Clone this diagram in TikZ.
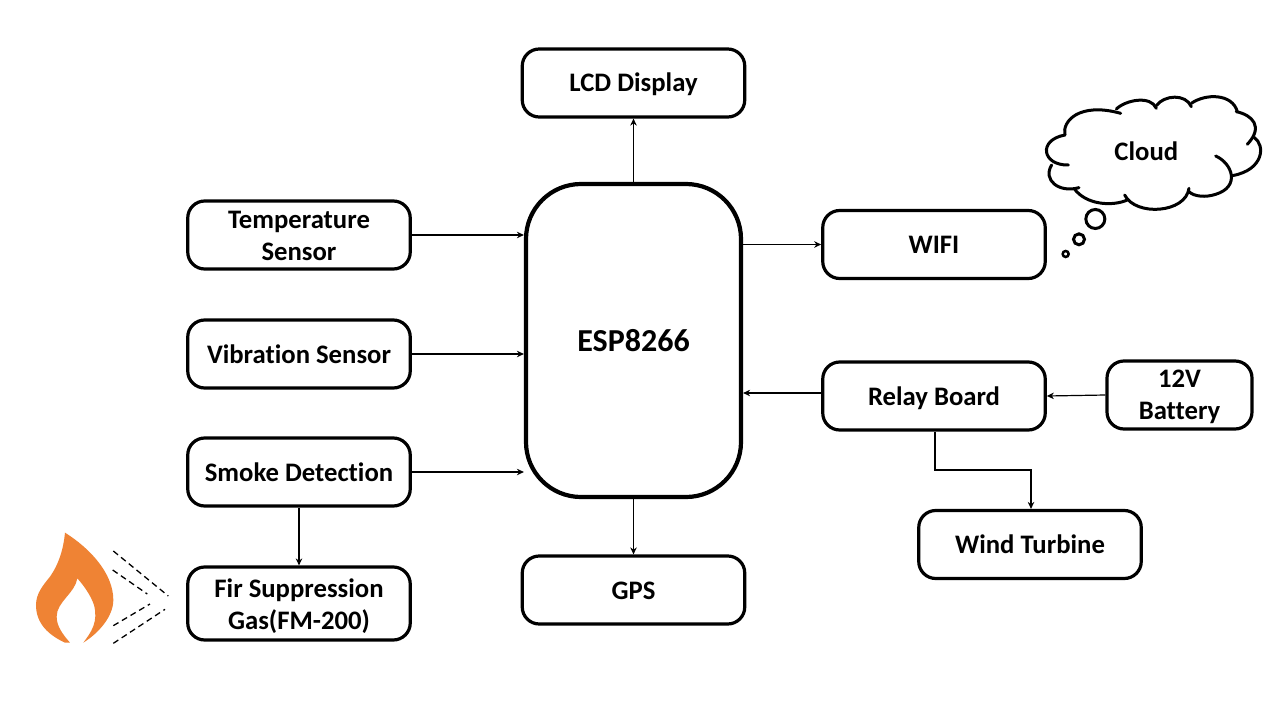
\documentclass[tikz,border=0pt]{standalone}
\usepackage{fontspec}
\setmainfont{Carlito}[Ligatures=NoCommon]
\usetikzlibrary{arrows.meta,calc}
\definecolor{flame}{RGB}{239,131,52}
\newcommand\lowr[2]{\raisebox{-#1}[\height][\depth]{\begin{tabular}{@{}c@{}}#2\end{tabular}}}
\tikzset{
  x=1pt,y=-1pt,
  blk/.style={draw=black,line width=3.2pt,rounded corners=17pt,fill=white,minimum width=222.5pt,minimum height=68pt,inner sep=0pt,font=\fontsize{26.7}{32}\selectfont\bfseries,text=black},
  one/.style={text height=22pt,text depth=4pt},
  smallblk/.style={blk,minimum width=145pt},
  cpu/.style={blk,line width=4.2pt,rounded corners=55pt,minimum width=215pt,minimum height=313pt,font=\fontsize{32}{36}\selectfont\bfseries},
  conn/.style={draw=black,line width=1.2pt,-{Stealth[length=7pt,width=6.5pt]}},
  cloudline/.style={draw=black,line width=3pt,line cap=round},
  bub/.style={circle,draw=black,line width=3pt,fill=white,inner sep=0pt},
  gasdash/.style={draw=black,line width=1.3pt,dash pattern=on 6pt off 4pt},
}
\begin{document}
\begin{tikzpicture}
\useasboundingbox (0,0) rectangle (1280,720);
\fill[white] (0,0) rectangle (1280,720);

\node[blk,text height=20pt,text depth=4pt] (lcd) at (633.5,83) {LCD Display};
\node[blk] (temp) at (299,235) {\lowr{3pt}{Temperature\\Sensor}};
\node[blk,one] (vib) at (299,354) {Vibration Sensor};
\node[blk,one] (smoke) at (299,472) {Smoke Detection};
\node[blk,minimum height=73pt] (gas) at (299,603.5) {\lowr{4pt}{Fir Suppression\\Gas(FM-200)}};
\node[cpu,text height=25pt,text depth=4pt] (esp) at (633.5,340.5) {ESP8266};
\node[blk,one] (gps) at (633.5,590) {GPS};
\node[blk,one] (wifi) at (934,244.5) {WIFI};
\node[blk,one] (relay) at (934,396) {Relay Board};
\node[smallblk] (bat) at (1179.5,395) {\lowr{2pt}{12V\\Battery}};
\node[blk,one] (wind) at (1030,544.5) {Wind Turbine};

\draw[conn] (esp.north) -- (lcd.south);
\draw[conn] (temp.east) -- (temp.east -| esp.west);
\draw[conn] (vib.east) -- (vib.east -| esp.west);
\draw[conn] (smoke.east) -- (smoke.east -| esp.west);
\draw[conn] (smoke.south) -- (gas.north);
\draw[conn] (esp.south) -- (gps.north);
\draw[conn] (wifi.west -| esp.east) -- (wifi.west);
\draw[conn] ([yshift=3pt]relay.west) -- ([yshift=3pt]relay.west -| esp.east);
\draw[conn] (bat.west) -- (relay.east);
\coordinate (turnA) at (935,470);
\coordinate (turnB) at (1031,470);
\draw[conn] (turnA |- relay.south) -- (turnA) -- (turnB) -- (turnB |- wind.north);

% cloud
\begin{scope}[shift={(1029,85)},x=0.3333pt,y=-0.3333pt]
  \fill[white] (108,150) -- (275,85) -- (382,70) -- (487,65) -- (625,80) -- (675,157) -- (610,272) -- (540,333) -- (287,330) -- (135,310) -- (68,240) -- cycle;
  \draw[cloudline] (108,150) .. controls (98,110) and (150,50) .. (275,85);
  \draw[cloudline] (262,72) .. controls (290,45) and (365,30) .. (382,70);
  \draw[cloudline] (382,62) .. controls (405,30) and (470,25) .. (487,65);
  \draw[cloudline] (487,55) .. controls (530,25) and (610,25) .. (625,80);
  \draw[cloudline] (622,80) .. controls (670,90) and (705,125) .. (655,178);
  \draw[cloudline] (675,157) .. controls (710,180) and (705,255) .. (610,272);
  \draw[cloudline] (560,213) .. controls (610,235) and (635,305) .. (560,328) .. controls (530,338) and (495,335) .. (480,320);
  \draw[cloudline] (480,310) .. controls (470,385) and (320,395) .. (287,330);
  \draw[cloudline] (295,345) .. controls (250,365) and (170,360) .. (135,310);
  \draw[cloudline] (150,308) .. controls (90,325) and (40,285) .. (68,240);
  \draw[cloudline] (118,240) .. controls (40,242) and (25,165) .. (108,150);
  \node[font=\fontsize{26.7}{30}\selectfont\bfseries,text=black] (cloudtext) at (352,200) {Cloud};
  \node[bub,minimum size=19pt] (bubA) at (199,402) {};
  \node[bub,minimum size=11pt] (bubB) at (150,463) {};
  \node[bub,minimum size=6pt,line width=2.5pt] (bubC) at (110,507) {};
\end{scope}

% flame and gas
\begin{scope}[shift={(20,510)},x=0.3333pt,y=-0.3333pt]
  \fill[flame] (135,68) .. controls (210,115) and (280,190) .. (280,270)
     .. controls (280,320) and (235,370) .. (190,398)
     .. controls (215,365) and (235,335) .. (222,285)
     .. controls (212,255) and (190,225) .. (172,205)
     .. controls (165,250) and (110,275) .. (110,320)
     .. controls (110,350) and (130,375) .. (150,398)
     -- (135,398)
     .. controls (85,375) and (48,340) .. (48,285)
     .. controls (48,250) and (70,225) .. (90,200)
     .. controls (115,165) and (130,120) .. (135,68) -- cycle;
  \draw[gasdash] (280,123) -- (445,258);
  \draw[gasdash] (278,180) -- (382,252);
  \draw[gasdash] (280,347) -- (390,282);
  \draw[gasdash] (280,400) -- (435,298);
\end{scope}
\end{tikzpicture}
\end{document}
